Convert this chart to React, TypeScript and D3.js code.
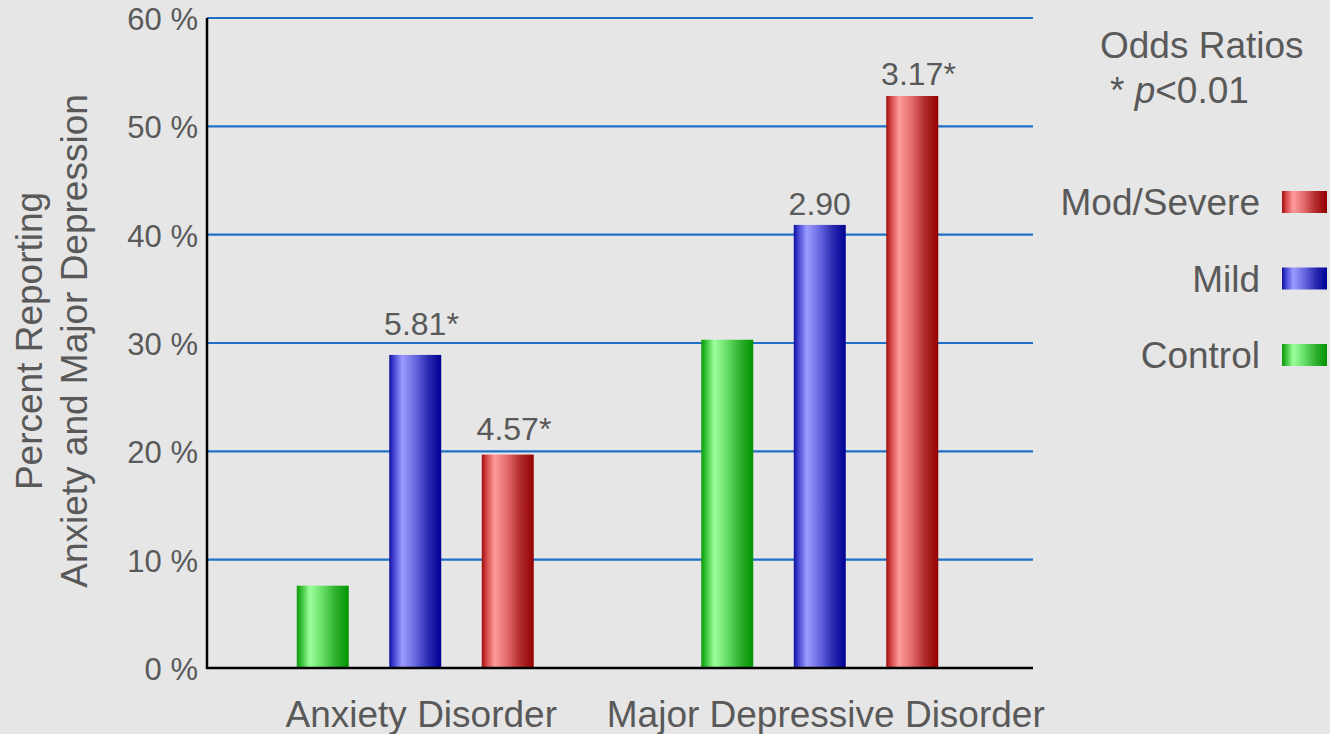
import React, { useEffect, useRef } from "react";
import * as d3 from "d3";

const categories = ["Anxiety Disorder", "Major Depressive Disorder"];
const seriesNames = ["Control", "Mild", "Mod/Severe"];
const controlValues = [7.6, 30.3];
const mildValues = [28.9, 40.9];
const severeValues = [19.7, 52.8];
const mildOdds = ["5.81", "2.90"];
const mildSig = [true, false];
const severeOdds = ["4.57", "3.17"];
const severeSig = [true, true];
const yTicks = [0, 10, 20, 30, 40, 50, 60];
const legendOrder = ["Mod/Severe", "Mild", "Control"];

const W = 1330;
const H = 734;
const FONT = "'Liberation Sans', Arial, Helvetica, sans-serif";
const TEXT = "#595959";
// label lift above bar top, per category, for [Mild, Mod/Severe]
const mildLift = [20, 10];
const severeLift = [15, 11];

const gradients: Record<string, string[]> = {
  Control: ["#0a9a0a", "#3cc43c", "#9cff9c", "#66dd66", "#2fb02f", "#009400"],
  Mild: ["#10109e", "#4a4ad8", "#9c9cff", "#6868e0", "#2a2ab0", "#000094"],
  "Mod/Severe": ["#9e1010", "#d84a4a", "#ff9c9c", "#e06868", "#b02a2a", "#940000"],
};
const gradStops = [0, 0.1, 0.25, 0.5, 0.75, 1];
const gradId: Record<string, string> = { Control: "gControl", Mild: "gMild", "Mod/Severe": "gSevere" };

export default function App() {
  const ref = useRef<SVGSVGElement>(null);

  useEffect(() => {
    const svg = d3.select(ref.current);
    svg.selectAll("*").remove();

    const left = 207;
    const right = 1033;
    const top = 18;
    const bottom = 668;

    const y = d3.scaleLinear().domain([0, 60]).range([bottom, top]);
    const x0 = d3.scaleBand<string>().domain(categories).range([213, 1022]).padding(0);
    const x1 = d3
      .scaleBand<string>()
      .domain(seriesNames)
      .range([(x0.bandwidth() - 277.5) / 2, (x0.bandwidth() + 277.5) / 2])
      .paddingInner(0.438)
      .paddingOuter(0.219);

    const defs = svg.append("defs");
    seriesNames.forEach((s) => {
      const g = defs
        .append("linearGradient")
        .attr("id", gradId[s])
        .attr("x1", "0%")
        .attr("x2", "100%")
        .attr("y1", "0%")
        .attr("y2", "0%");
      gradients[s].forEach((c, i) => {
        g.append("stop").attr("offset", gradStops[i]).attr("stop-color", c);
      });
    });

    svg.append("rect").attr("width", W).attr("height", H).attr("fill", "#e6e6e6");

    svg
      .append("g")
      .selectAll("line")
      .data(yTicks.filter((t) => t > 0))
      .join("line")
      .attr("x1", left)
      .attr("x2", right)
      .attr("y1", (d) => y(d))
      .attr("y2", (d) => y(d))
      .attr("stroke", "#1f70c8")
      .attr("stroke-width", 2.2);

    svg
      .append("g")
      .selectAll("text")
      .data(yTicks)
      .join("text")
      .attr("x", 198)
      .attr("y", (d) => y(d) + 12)
      .attr("text-anchor", "end")
      .attr("font-family", FONT)
      .attr("font-size", 31)
      .attr("fill", TEXT)
      .text((d) => `${d} %`);

    const rows = categories.map((c, i) => ({
      cat: c,
      items: [
        { s: "Control", v: controlValues[i], label: null as string | null, sig: false, lift: 0 },
        { s: "Mild", v: mildValues[i], label: mildOdds[i], sig: mildSig[i], lift: mildLift[i] },
        { s: "Mod/Severe", v: severeValues[i], label: severeOdds[i], sig: severeSig[i], lift: severeLift[i] },
      ],
    }));

    const groups = svg
      .append("g")
      .selectAll("g")
      .data(rows)
      .join("g")
      .attr("transform", (d) => `translate(${x0(d.cat)},0)`);

    groups
      .selectAll("rect")
      .data((d) => d.items)
      .join("rect")
      .attr("x", (d) => x1(d.s)!)
      .attr("width", x1.bandwidth())
      .attr("y", (d) => y(d.v))
      .attr("height", (d) => y(0) - y(d.v))
      .attr("fill", (d) => `url(#${gradId[d.s]})`);

    groups.each(function (d) {
      const g = d3.select(this);
      d.items.forEach((it) => {
        if (!it.label) return;
        const cx = x1(it.s)! + x1.bandwidth() / 2;
        const t = g
          .append("text")
          .attr("font-family", FONT)
          .attr("font-size", 32)
          .attr("fill", TEXT)
          .attr("y", y(it.v) - it.lift)
          .text(it.label);
        const w = (t.node() as SVGTextElement).getComputedTextLength();
        t.attr("x", cx - w / 2);
        if (it.sig) {
          g.append("text")
            .attr("font-family", FONT)
            .attr("font-size", 32)
            .attr("fill", TEXT)
            .attr("x", cx + w / 2)
            .attr("y", y(it.v) - it.lift)
            .text("*");
        }
      });
    });

    svg
      .append("line")
      .attr("x1", left)
      .attr("x2", left)
      .attr("y1", top)
      .attr("y2", bottom + 1)
      .attr("stroke", "#000")
      .attr("stroke-width", 2.5);
    svg
      .append("line")
      .attr("x1", left - 1)
      .attr("x2", right)
      .attr("y1", bottom)
      .attr("y2", bottom)
      .attr("stroke", "#000")
      .attr("stroke-width", 2.5);

    svg
      .append("g")
      .selectAll("text")
      .data(categories)
      .join("text")
      .attr("x", (d) => x0(d)! + x0.bandwidth() / 2 + 6)
      .attr("y", 727)
      .attr("text-anchor", "middle")
      .attr("font-family", FONT)
      .attr("font-size", 37)
      .attr("fill", TEXT)
      .text((d) => d);

    const yt = svg
      .append("text")
      .attr("transform", "translate(0,341) rotate(-90)")
      .attr("text-anchor", "middle")
      .attr("font-family", FONT)
      .attr("font-size", 37)
      .attr("fill", TEXT);
    yt.append("tspan").attr("x", 0).attr("y", 42).text("Percent Reporting");
    yt.append("tspan").attr("x", 0).attr("y", 87).text("Anxiety and Major Depression");

    svg
      .append("text")
      .attr("x", 1100)
      .attr("y", 58)
      .attr("font-family", FONT)
      .attr("font-size", 37)
      .attr("fill", TEXT)
      .text("Odds Ratios");
    const pt = svg
      .append("text")
      .attr("x", 1110)
      .attr("y", 103)
      .attr("font-family", FONT)
      .attr("font-size", 37)
      .attr("fill", TEXT);
    pt.append("tspan").text("* ");
    pt.append("tspan").attr("font-style", "italic").text("p");
    pt.append("tspan").text("<0.01");

    const ly = d3.scalePoint<string>().domain(legendOrder).range([202, 355]);
    const leg = svg
      .append("g")
      .selectAll("g")
      .data(legendOrder)
      .join("g")
      .attr("transform", (d) => `translate(0,${ly(d)})`);
    leg
      .append("rect")
      .attr("x", 1282)
      .attr("y", -11)
      .attr("width", 45)
      .attr("height", 22)
      .attr("fill", (d) => `url(#${gradId[d]})`);
    leg
      .append("text")
      .attr("x", 1260)
      .attr("y", 13)
      .attr("text-anchor", "end")
      .attr("font-family", FONT)
      .attr("font-size", 37)
      .attr("fill", TEXT)
      .text((d) => d);
  }, []);

  return (
    <svg
      ref={ref}
      width={W}
      height={H}
      style={{ position: "fixed", left: 0, top: 0, display: "block" }}
    />
  );
}
